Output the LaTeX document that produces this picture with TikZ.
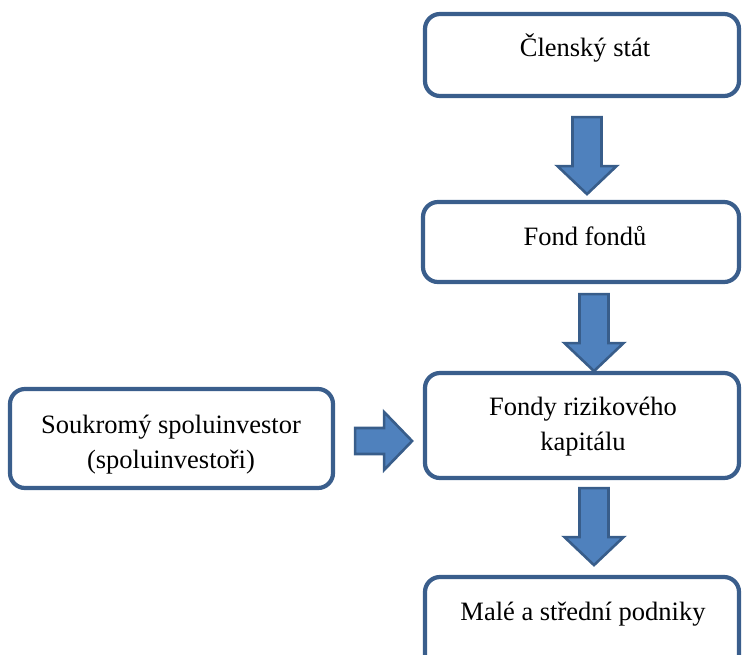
\documentclass[tikz,border=0pt]{standalone}
\usepackage{fontspec}
\setmainfont{Liberation Serif}
\usetikzlibrary{calc}
\definecolor{bordc}{HTML}{3A5E8C}
\definecolor{arrfill}{HTML}{4F81BD}
\definecolor{arrbord}{HTML}{385D8A}
\tikzset{
  box/.style={draw=bordc, line width=4.2pt, rounded corners=15pt, fill=white, inner sep=0pt},
  lbl/.style={inner sep=0pt, anchor=base, align=center, font=\fontsize{26.5}{35}\selectfont},
  arrowstyle/.style={draw=arrbord, fill=arrfill, line width=2.6pt, line join=miter},
  darrow/.pic={\draw[arrowstyle] (-14.5,0) -- (14.5,0) -- (14.5,49) -- (29.5,49) -- (0,77) -- (-29.5,49) -- (-14.5,49) -- cycle;},
  rarrow/.pic={\draw[arrowstyle] (0,-13) -- (29,-13) -- (29,-29) -- (57,0) -- (29,29) -- (29,13) -- (0,13) -- cycle;}
}
\begin{document}
\begin{tikzpicture}[x=1pt,y=-1pt]
\useasboundingbox (0,0) rectangle (742,654);
\clip (0,0) rectangle (742,654);
% boxes
\node[box, minimum width=314pt, minimum height=82pt] (b1) at (582,55) {};
\node[box, minimum width=316pt, minimum height=80pt] (b2) at (581,242) {};
\node[box, minimum width=314pt, minimum height=105pt] (b3) at (582,425.5) {};
\node[box, minimum width=314pt, minimum height=110pt] (b4) at (582,632) {};
\node[box, minimum width=323pt, minimum height=99pt] (b5) at (171.5,438.5) {};
% labels
\node[lbl] (t1) at (585,56) {Členský stát};
\node[lbl] (t2) at (585,245) {Fond fondů};
\node[lbl] (t3) at (583,450) {Fondy rizikového\\kapitálu};
\node[lbl] (t4) at (583,620) {Malé a střední podniky};
\node[lbl] (t5) at (171,468) {Soukromý spoluinvestor\\(spoluinvestoři)};
% arrows
\path (b1.south) ++(5,19) pic {darrow};
\path (b2.south) ++(13,10) pic {darrow};
\path (b3.south) ++(12,8) pic {darrow};
\path (b5.east) ++(20,2.5) pic {rarrow};
\end{tikzpicture}
\end{document}
